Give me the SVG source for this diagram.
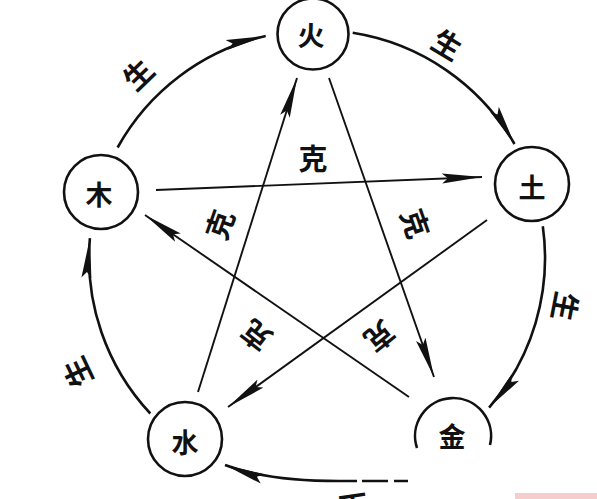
<svg xmlns="http://www.w3.org/2000/svg" width="597" height="499" viewBox="0 0 597 499">
<defs>
<marker id="ah" viewBox="0 0 40 11" refX="40" refY="5.5" markerWidth="40" markerHeight="11" markerUnits="userSpaceOnUse" orient="auto">
<path d="M0,0.5 L40,5.5 L0,10.5 L6,5.5 z" fill="#111"/>
</marker>
<style>
.node circle, .node path {fill:#fff; stroke:#111; stroke-width:2.6}
.node path {fill:none}
.lbl {font-family:"Noto Sans CJK SC","Noto Sans CJK JP",sans-serif; font-size:27px; font-weight:bold; fill:#111; text-anchor:middle; dominant-baseline:central}
.rel {font-family:"Noto Sans CJK SC","Noto Sans CJK JP",sans-serif; font-size:29px; font-weight:bold; fill:#111; text-anchor:middle; dominant-baseline:central}
.arc {fill:none; stroke:#111; stroke-width:2.6; marker-end:url(#ah)}
.star {fill:none; stroke:#111; stroke-width:1.9; marker-end:url(#ah)}
.dash {fill:none; stroke:#111; stroke-width:2.6; stroke-dasharray:18 5 26 6 14}
</style>
</defs>
<rect width="597" height="499" fill="#fff"/>
<g id="connectors">
<path class="arc" d="M117.6,147.5 A228,228 0 0 1 265.7,35.9"/>
<path class="arc" d="M352.7,32.8 A228,228 0 0 1 514.5,144"/>
<path class="arc" d="M542.8,226.3 A228,228 0 0 1 489.1,407.6"/>
<path class="arc" d="M339,481 C300,481 260,478 225,465"/>
<path class="dash" d="M339,481 H409"/>
<path class="arc" d="M150.3,413.5 A228,228 0 0 1 89.9,238.1"/>
<path class="star" d="M156,190 L482,177"/>
<path class="star" d="M487,220 L228,407"/>
<path class="star" d="M198,392 L297,78"/>
<path class="star" d="M329,78 L434,377"/>
<path class="star" d="M409,397 L145,215"/>
</g>
<g id="labels">
<text class="rel" x="313" y="157">克</text>
<text class="rel" transform="translate(218,224) rotate(-70.5)">克</text>
<text class="rel" transform="translate(417,223) rotate(70.7)">克</text>
<text class="rel" transform="translate(255,337) rotate(-142)">克</text>
<text class="rel" transform="translate(381,338) rotate(141)">克</text>
<text class="rel" transform="translate(137,73) rotate(-44)">生</text>
<text class="rel" transform="translate(448,43) rotate(31)">生</text>
<text class="rel" transform="translate(567,307) rotate(101)">生</text>
<text class="rel" transform="translate(76,373) rotate(-115.5)">生</text>
<text class="rel" transform="translate(354,509) rotate(171.5)">生</text>
</g>
<g id="n-huo" class="node"><circle cx="313" cy="34" r="35.5"/><text class="lbl" x="311" y="34">火</text></g>
<g id="n-tu" class="node"><circle cx="532" cy="184" r="37"/><text class="lbl" x="532" y="186">土</text></g>
<g id="n-mu" class="node"><circle cx="101" cy="192" r="37"/><text class="lbl" x="99" y="193">木</text></g>
<g id="n-shui" class="node"><circle cx="185" cy="439" r="37"/><text class="lbl" x="185" y="441">水</text></g>
<g id="n-jin" class="node"><path d="M417,448 A38,38 0 1 1 490,445"/><text class="lbl" x="452" y="435">金</text></g>
<rect x="515" y="493" width="82" height="6" fill="#f6cdcd"/>
</svg>
